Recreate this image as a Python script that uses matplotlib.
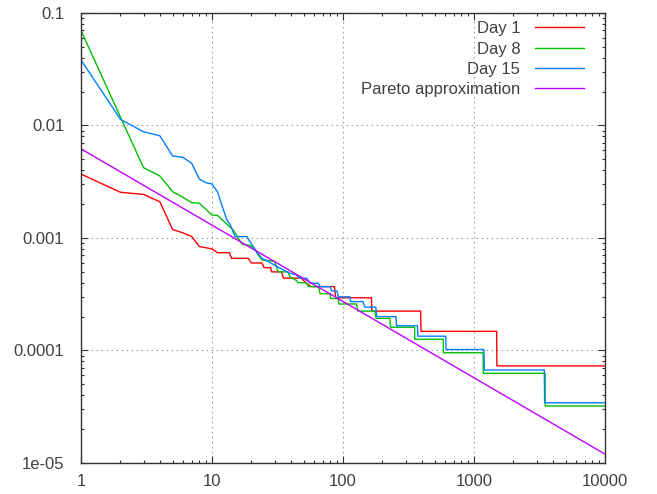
import matplotlib
matplotlib.use('Agg')
import matplotlib.pyplot as plt
from matplotlib.ticker import LogLocator, FixedFormatter, FixedLocator, NullFormatter

plt.rcParams['font.family'] = ['Liberation Sans', 'DejaVu Sans']

# Day 1
x1 = [1, 2, 3, 4, 5, 6, 7, 8, 10, 11, 13.6, 14.1, 18.9, 20, 24, 25, 28, 28.5, 34, 35,
      48, 52, 57, 86, 88, 165, 166, 392, 394, 1490, 1495, 10000]
y1 = [0.0037, 0.00255, 0.00244, 0.0021, 0.00119, 0.00111, 0.00103, 0.00084, 0.0008, 0.00074,
      0.00074, 0.00066, 0.00066, 0.0006, 0.0006, 0.000545, 0.000545, 0.0005, 0.0005, 0.00044,
      0.00044, 0.0004, 0.00037, 0.00037, 0.000294, 0.000294, 0.000224, 0.000224, 0.000148,
      0.000148, 7.3e-5, 7.3e-5]

# Day 8
x2 = [1, 2, 3, 4, 5, 6, 7, 8, 10, 11, 14.5, 17, 19.5, 21, 22.5, 24, 30, 32, 38, 39.5,
      44, 45.5, 52.7, 54.3, 65, 66.8, 79.6, 80.5, 92, 93, 127, 130, 175, 179, 228, 231,
      352, 353, 582, 584, 1173, 1178, 3487, 3500, 10000]
y2 = [0.07, 0.0119, 0.00422, 0.00356, 0.00258, 0.0023, 0.00206, 0.00204, 0.0016, 0.00159,
      0.00118, 0.00088, 0.00086, 0.00081, 0.00071, 0.00064, 0.00062, 0.0005, 0.0005, 0.00045,
      0.00042, 0.0004, 0.0004, 0.00037, 0.00037, 0.00032, 0.00032, 0.00029, 0.00029, 0.000259,
      0.000259, 0.000224, 0.000224, 0.000193, 0.000193, 0.000161, 0.000161, 0.000126, 0.000126,
      9.55e-5, 9.55e-5, 6.27e-5, 6.27e-5, 3.21e-5, 3.21e-5]

# Day 15
x3 = [1, 2, 3, 4, 5, 6, 7, 8, 9, 10, 11, 12, 13, 13.7, 15, 18.4, 19.5, 20.6, 22, 24, 26, 33,
      39.4, 44, 46.9, 53, 56, 65, 66.8, 79.6, 82, 90, 92, 113, 114, 142, 147, 178, 181,
      254, 256, 370, 373, 608, 611, 1190, 1200, 3440, 3460, 10000]
y3 = [0.0382, 0.01135, 0.0088, 0.0081, 0.00536, 0.00521, 0.00461, 0.00334, 0.0031, 0.00302,
      0.00258, 0.0019, 0.00144, 0.00133, 0.00103, 0.00103, 0.00093, 0.00084, 0.00075, 0.00066,
      0.00063, 0.00054, 0.000486, 0.00047, 0.000438, 0.000438, 0.000396, 0.000396, 0.000369,
      0.000369, 0.000338, 0.000338, 0.0003, 0.0003, 0.000272, 0.000272, 0.000243, 0.000243,
      0.0002, 0.0002, 0.000166, 0.000166, 0.000134, 0.000134, 0.000102, 0.000102, 6.71e-5,
      6.71e-5, 3.43e-5, 3.43e-5]

# Pareto approximation (straight line on log-log)
xp = [1, 10000]
yp = [0.0062, 1.2e-5]

labels = ['Day 1', 'Day 8', 'Day 15', 'Pareto approximation']
colors = ['#ff0000', '#00c000', '#0080ff', '#c000ff']

xticks = [1, 10, 100, 1000, 10000]
xticklabels = ['1', '10', '100', '1000', '10000']
yticks = [1e-5, 1e-4, 1e-3, 1e-2, 1e-1]
yticklabels = ['1e-05', '0.0001', '0.001', '0.01', '0.1']

txt = '#404040'
fig = plt.figure(figsize=(6.57, 4.94), dpi=100)
ax = fig.add_axes([81 / 657, 1 - 463 / 494, 524 / 657, 450 / 494])

for x, y, c, l in zip([x1, x2, x3, xp], [y1, y2, y3, yp], colors, labels):
    ax.plot(x, y, color=c, lw=1.0, label=l)

ax.set_xscale('log')
ax.set_yscale('log')
ax.set_xlim(1, 10000)
ax.set_ylim(1e-5, 0.1)

ax.xaxis.set_major_locator(FixedLocator(xticks))
ax.xaxis.set_major_formatter(FixedFormatter(xticklabels))
ax.yaxis.set_major_locator(FixedLocator(yticks))
ax.yaxis.set_major_formatter(FixedFormatter(yticklabels))
ax.xaxis.set_minor_locator(LogLocator(base=10, subs=range(2, 10)))
ax.yaxis.set_minor_locator(LogLocator(base=10, subs=range(2, 10)))
ax.xaxis.set_minor_formatter(NullFormatter())
ax.yaxis.set_minor_formatter(NullFormatter())

ax.tick_params(which='both', direction='in', top=True, right=True, colors='#333333',
               labelcolor=txt, labelsize=12)
ax.tick_params(which='major', length=5, width=0.8)
ax.tick_params(which='minor', length=2.5, width=0.8)
ax.tick_params(axis='y', pad=12)
ax.tick_params(axis='x', pad=8)

ax.grid(True, which='major', color='#a0a0a0', linestyle=(0, (1.5, 3)), lw=0.8)
for s in ax.spines.values():
    s.set_color('#333333')
    s.set_linewidth(1.0)

ax.legend(loc='upper right', bbox_to_anchor=(1 - 13 / 524, 1), frameon=False,
          markerfirst=False, fontsize=12, handlelength=2.9, labelspacing=0.32,
          borderaxespad=0.3, borderpad=0.2, handletextpad=0.9, labelcolor=txt)

fig.savefig('out.png', dpi=100)
